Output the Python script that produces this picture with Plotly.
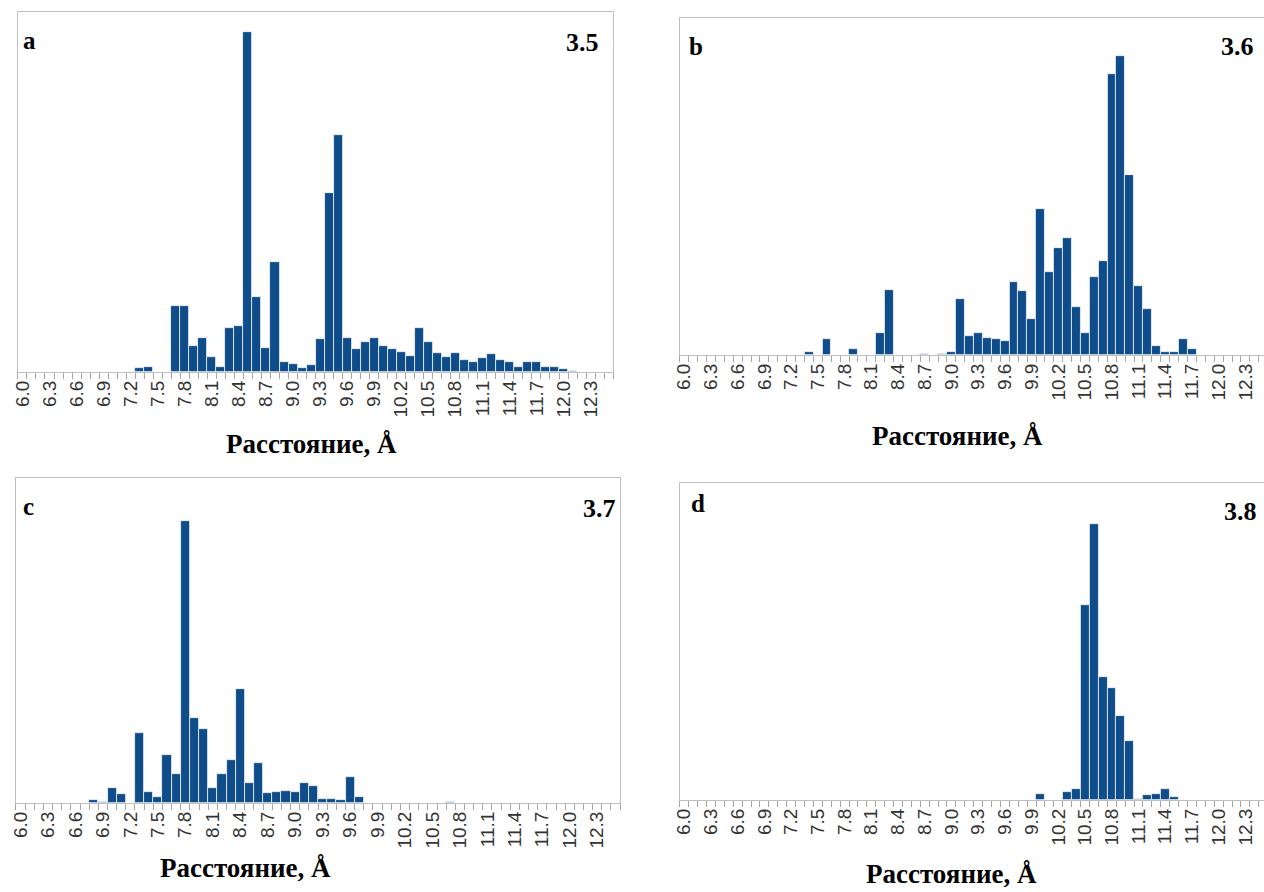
import plotly.graph_objects as go

W, H = 1264, 892

# bin starts (Å), one bar per 0.1 Å bin
bins = [6.0, 6.1, 6.2, 6.3, 6.4, 6.5, 6.6, 6.7, 6.8, 6.9,
        7.0, 7.1, 7.2, 7.3, 7.4, 7.5, 7.6, 7.7, 7.8, 7.9,
        8.0, 8.1, 8.2, 8.3, 8.4, 8.5, 8.6, 8.7, 8.8, 8.9,
        9.0, 9.1, 9.2, 9.3, 9.4, 9.5, 9.6, 9.7, 9.8, 9.9,
        10.0, 10.1, 10.2, 10.3, 10.4, 10.5, 10.6, 10.7, 10.8, 10.9,
        11.0, 11.1, 11.2, 11.3, 11.4, 11.5, 11.6, 11.7, 11.8, 11.9,
        12.0, 12.1, 12.2, 12.3, 12.4, 12.5]

tick_vals = [6.0, 6.3, 6.6, 6.9, 7.2, 7.5, 7.8, 8.1, 8.4, 8.7, 9.0,
             9.3, 9.6, 9.9, 10.2, 10.5, 10.8, 11.1, 11.4, 11.7, 12.0, 12.3]
tick_text = ["6.0", "6.3", "6.6", "6.9", "7.2", "7.5", "7.8", "8.1", "8.4", "8.7", "9.0",
             "9.3", "9.6", "9.9", "10.2", "10.5", "10.8", "11.1", "11.4", "11.7", "12.0", "12.3"]

# panel a (3.5)
vals_a = [0, 0, 0, 0, 0, 0, 0, 0, 0, 0,
          0, 0, 0, 12, 16, 0, 0, 197, 197, 77,
          102, 45, 16, 131, 139, 1022, 226, 73, 329, 29,
          24, 12, 20, 98, 539, 711, 102, 69, 90, 102,
          77, 69, 61, 49, 131, 90, 57, 45, 57, 37,
          29, 41, 53, 37, 29, 16, 29, 29, 16, 16,
          8, 4, 0, 0, 0, 0]
# panel b (3.6)
vals_b = [0, 0, 0, 0, 0, 0, 0, 0, 0, 0,
          0, 0, 0, 0, 8, 0, 47, 0, 0, 17,
          0, 0, 66, 196, 0, 0, 0, 4, 0, 4,
          8, 167, 56, 66, 51, 47, 42, 220, 191, 109,
          437, 249, 321, 350, 143, 66, 234, 283, 845, 897,
          542, 206, 138, 27, 8, 8, 47, 17, 0, 0,
          0, 0, 0, 0, 0, 0]
# panel c (3.7)
vals_c = [0, 0, 0, 0, 0, 0, 0, 0, 8, 4,
          45, 27, 0, 210, 33, 17, 144, 88, 852, 256,
          223, 45, 88, 129, 344, 61, 121, 29, 33, 37,
          33, 61, 51, 13, 13, 9, 78, 17, 0, 0,
          0, 0, 0, 0, 0, 0, 0, 3, 0, 0,
          0, 0, 0, 0, 0, 0, 0, 0, 0, 0,
          0, 0, 0, 0, 0, 0]
# panel d (3.8)
vals_d = [0, 0, 0, 0, 0, 0, 0, 0, 0, 0,
          0, 0, 0, 0, 0, 0, 0, 0, 0, 0,
          0, 0, 0, 0, 0, 0, 0, 0, 0, 0,
          0, 0, 0, 0, 0, 0, 0, 0, 0, 0,
          18, 0, 0, 23, 32, 590, 835, 372, 339, 255,
          180, 4, 14, 18, 32, 8, 0, 0, 0, 0,
          0, 0, 0, 0, 0, 0]

panel_letters = ["a", "b", "c", "d"]
panel_values = ["3.5", "3.6", "3.7", "3.8"]
axis_title = "Расстояние, Å"

BAR = "#0f4c8a"
FRAME = "#bfbfbf"

panels = [
    dict(vals=vals_a, box=(12, 610, 12, 372), ymax=1081, xmax=12.55, mirror_y=True,
         letter=(15, 40), num=(598, 42), title=(307, 444)),
    dict(vals=vals_b, box=(677, 1264, 18, 355), ymax=1012, xmax=12.509, mirror_y=False,
         letter=(684, 47), num=(1256, 46), title=(956, 436)),
    dict(vals=vals_c, box=(10, 617, 478, 803), ymax=981, xmax=12.55, mirror_y=True,
         letter=(15, 506), num=(615, 508), title=(241, 868)),
    dict(vals=vals_d, box=(677, 1264, 483, 800), ymax=960, xmax=12.509, mirror_y=False,
         letter=(686, 504), num=(1259, 511), title=(950, 874)),
]

fig = go.Figure()
layout = dict(width=W, height=H, margin=dict(l=0, r=0, t=0, b=0),
              paper_bgcolor="white", plot_bgcolor="white", showlegend=False,
              bargap=0, annotations=[])

serif = "Liberation Serif, Times New Roman, serif"

for k, p in enumerate(panels):
    sfx = "" if k == 0 else str(k + 1)
    l, r, t, b = p["box"]
    fig.add_trace(go.Bar(
        x=bins, y=p["vals"], width=0.1,
        marker=dict(color=BAR, line=dict(color="white", width=0.7)),
        xaxis="x" + sfx, yaxis="y" + sfx, hoverinfo="x+y"))
    layout["xaxis" + sfx] = dict(
        domain=[l / W, r / W], anchor="y" + sfx, range=[5.95, p["xmax"]],
        tickmode="array", tickvals=tick_vals, ticktext=tick_text,
        tickangle=-90, ticks="", showgrid=False, zeroline=False,
        tickfont=dict(family="Liberation Sans, Arial, sans-serif", size=19, color="#333333"),
        showline=True, linecolor=FRAME, linewidth=1, mirror=True,
        minor=dict(ticks="outside", tick0=5.95, dtick=0.1, ticklen=6,
                   tickcolor="#a6a6a6", tickwidth=1, showgrid=False),
    )
    layout["yaxis" + sfx] = dict(
        domain=[1 - b / H, 1 - t / H], anchor="x" + sfx, range=[0, p["ymax"]],
        showticklabels=False, ticks="", showgrid=False, zeroline=False,
        showline=True, linecolor=FRAME, linewidth=1, mirror=p["mirror_y"],
    )
    lx, ly = p["letter"]
    layout["annotations"].append(dict(
        text="<b>%s</b>" % panel_letters[k], xref="paper", yref="paper",
        x=lx / W, y=1 - ly / H, xanchor="left", yanchor="middle", showarrow=False,
        font=dict(family=serif, size=25, color="black")))
    nx, ny = p["num"]
    layout["annotations"].append(dict(
        text="<b>%s</b>" % panel_values[k], xref="paper", yref="paper",
        x=nx / W, y=1 - ny / H, xanchor="right", yanchor="middle", showarrow=False,
        font=dict(family=serif, size=26, color="black")))
    tx, ty = p["title"]
    layout["annotations"].append(dict(
        text="<b>%s</b>" % axis_title, xref="paper", yref="paper",
        x=tx / W, y=1 - ty / H, xanchor="center", yanchor="middle", showarrow=False,
        font=dict(family=serif, size=27, color="black")))

fig.update_layout(**layout)
fig.write_html("out.html", config={"displayModeBar": False},
               post_script="document.body.style.margin='0';document.body.style.overflow='hidden';")
